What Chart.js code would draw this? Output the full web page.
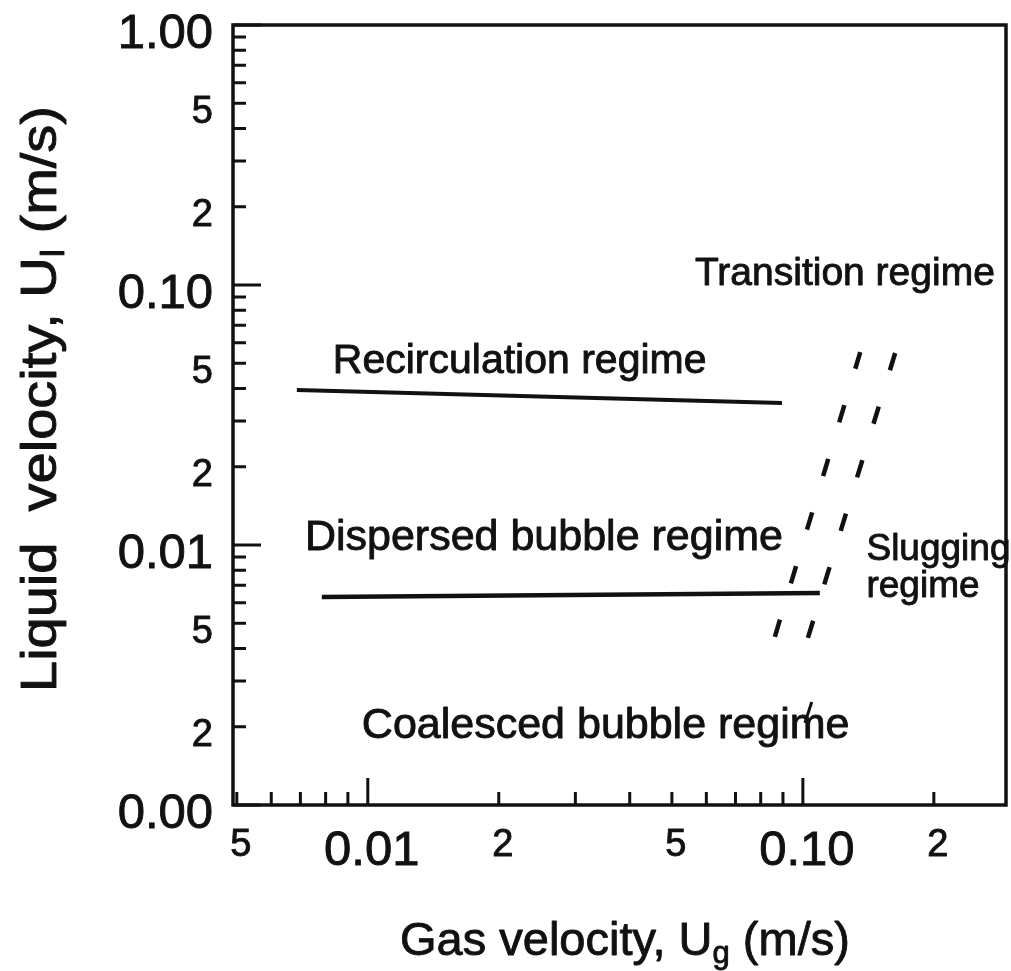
<!DOCTYPE html>
<html>
<head>
<meta charset="utf-8">
<script src="https://cdn.jsdelivr.net/npm/chart.js@4.4.0/dist/chart.umd.min.js"></script>
<style>
  html, body { margin: 0; padding: 0; background: #fff; }
</style>
</head>
<body>
<canvas id="grafico" width="1011" height="971"></canvas>
<script>
// fronteras entre regimenes (Ug y Ul en m/s)
const recircUg = [0.00687, 0.0895];
const recircUl = [0.0395, 0.0352];

const dispersoUg = [0.00784, 0.1094];
const dispersoUl = [0.00631, 0.00654];

const slugIzqUg = [0.0862, 0.1355];
const slugIzqUl = [0.00443, 0.0552];

const slugDerUg = [0.1027, 0.163];
const slugDerUl = [0.00439, 0.0548];

const trazoUg = [0.1011, 0.1048];
const trazoUl = [0.00207, 0.00249];

const xTicks = [0.005, 0.006, 0.007, 0.008, 0.009, 0.01, 0.02, 0.03, 0.04, 0.05, 0.06, 0.07, 0.08, 0.09, 0.1, 0.2];
const xLabels = ["5", "", "", "", "", "0.01", "2", "", "", "5", "", "", "", "", "0.10", "2"];
const xMayores = [0.01, 0.1];

const yTicks = [0.001, 0.002, 0.003, 0.004, 0.005, 0.006, 0.007, 0.008, 0.009,
  0.01, 0.02, 0.03, 0.04, 0.05, 0.06, 0.07, 0.08, 0.09,
  0.1, 0.2, 0.3, 0.4, 0.5, 0.6, 0.7, 0.8, 0.9, 1];
const yLabels = ["0.00", "2", "", "", "5", "", "", "", "",
  "0.01", "2", "", "", "5", "", "", "", "",
  "0.10", "2", "", "", "5", "", "", "", "", "1.00"];
const yMayores = [0.001, 0.01, 0.1, 1];

const regimenes = ["Transition regime", "Recirculation regime", "Dispersed bubble regime", "Slugging", "regime", "Coalesced bubble regime"];

const tituloX = ["Gas velocity, U", "g", " (m/s)"];
const tituloY = ["Liquid  velocity, U", "l", " (m/s)"];

const FUENTE = "'Liberation Sans', Arial, sans-serif";
const NEGRO = "#111";

function linea(xs, ys, ancho, guion) {
  return {
    data: xs.map((x, i) => ({ x: x, y: ys[i] })),
    showLine: true,
    borderColor: NEGRO,
    borderWidth: ancho,
    borderDash: guion,
    borderCapStyle: "butt",
    pointRadius: 0,
    fill: false
  };
}

// ubicacion de cada texto de regimen (en unidades de los ejes) y su tamaño
const ubicaciones = [
  [0.0565, 0.1, 39],
  [0.00831, 0.0459, 41],
  [0.00717, 0.00957, 43],
  [0.140, 0.00875, 37],
  [0.140, 0.00631, 37],
  [0.00969, 0.00181, 43]
];

function escribir(ctx, txt, x, y) {
  ctx.strokeText(txt, x, y);
  ctx.fillText(txt, x, y);
}

function escribirPartes(ctx, partes, tam, tamSub, bajada) {
  let x = 0;
  partes.forEach((p, i) => {
    const sub = i === 1;
    ctx.font = (sub ? tamSub : tam) + "px " + FUENTE;
    escribir(ctx, p, x, sub ? bajada : 0);
    x += ctx.measureText(p).width;
  });
}

const marco = {
  id: "marco",
  afterDatasetsDraw(chart) {
    const ctx = chart.ctx;
    const a = chart.chartArea;
    const sx = chart.scales.x;
    const sy = chart.scales.y;
    ctx.save();
    ctx.strokeStyle = NEGRO;
    ctx.fillStyle = NEGRO;

    // caja
    ctx.lineWidth = 3.5;
    ctx.strokeRect(a.left, a.top, a.right - a.left, a.bottom - a.top);

    // marcas hacia adentro
    ctx.lineWidth = 3;
    ctx.beginPath();
    sx.ticks.forEach(t => {
      const px = sx.getPixelForValue(t.value);
      const largo = t.major ? 27 : 13;
      ctx.moveTo(px, a.bottom);
      ctx.lineTo(px, a.bottom - largo);
    });
    sy.ticks.forEach(t => {
      const py = sy.getPixelForValue(t.value);
      const largo = t.major ? 28 : 13;
      ctx.moveTo(a.left, py);
      ctx.lineTo(a.left + largo, py);
    });
    ctx.stroke();

    // nombres de regimenes
    ctx.lineWidth = 0.9;
    ctx.lineJoin = "round";
    ctx.textAlign = "left";
    ctx.textBaseline = "alphabetic";
    regimenes.forEach((txt, i) => {
      const u = ubicaciones[i];
      ctx.font = u[2] + "px " + FUENTE;
      escribir(ctx, txt, sx.getPixelForValue(u[0]), sy.getPixelForValue(u[1]));
    });

    // titulos de ejes
    ctx.save();
    ctx.translate(400, 955);
    escribirPartes(ctx, tituloX, 47, 31, 8);
    ctx.restore();

    ctx.save();
    ctx.translate(56, 692);
    ctx.rotate(-Math.PI / 2);
    ctx.scale(1.12, 1);
    escribirPartes(ctx, tituloY, 50, 33, 8);
    ctx.restore();

    ctx.restore();
  }
};

const fuenteTick = c => ({ family: FUENTE, size: c.tick && c.tick.major ? 49 : 38, lineHeight: 1 });

new Chart(document.getElementById("grafico"), {
  type: "scatter",
  data: {
    datasets: [
      linea(recircUg, recircUl, 4, []),
      linea(dispersoUg, dispersoUl, 4.5, []),
      linea(slugIzqUg, slugIzqUl, 4.5, [18, 38]),
      linea(slugDerUg, slugDerUl, 4.5, [18, 38]),
      linea(trazoUg, trazoUl, 3, [])
    ]
  },
  options: {
    responsive: false,
    animation: false,
    layout: { padding: { top: 25, right: 5, left: 0, bottom: 0 } },
    plugins: { legend: { display: false }, tooltip: { enabled: false } },
    scales: {
      x: {
        type: "logarithmic",
        position: "bottom",
        min: 0.0049,
        max: 0.293,
        afterBuildTicks: s => { s.ticks = xTicks.map(v => ({ value: v, major: xMayores.includes(v) })); },
        afterFit: s => { s.height = 166; s.paddingLeft = 0; s.paddingRight = 0; },
        grid: { display: false, drawTicks: false },
        border: { display: false },
        ticks: {
          autoSkip: false,
          maxRotation: 0,
          padding: 22,
          labelOffset: 4,
          color: NEGRO,
          textStrokeColor: NEGRO,
          textStrokeWidth: 0.9,
          callback: (v, i) => xLabels[i],
          font: fuenteTick
        }
      },
      y: {
        type: "logarithmic",
        position: "left",
        min: 0.001,
        max: 1,
        afterBuildTicks: s => { s.ticks = yTicks.map(v => ({ value: v, major: yMayores.includes(v) })); },
        afterFit: s => { s.width = 233; s.paddingTop = 0; s.paddingBottom = 0; },
        grid: { display: false, drawTicks: false },
        border: { display: false },
        ticks: {
          autoSkip: false,
          padding: 20,
          labelOffset: 9,
          color: NEGRO,
          textStrokeColor: NEGRO,
          textStrokeWidth: 0.9,
          callback: (v, i) => yLabels[i],
          font: fuenteTick
        }
      }
    }
  },
  plugins: [marco]
});
</script>
</body>
</html>
